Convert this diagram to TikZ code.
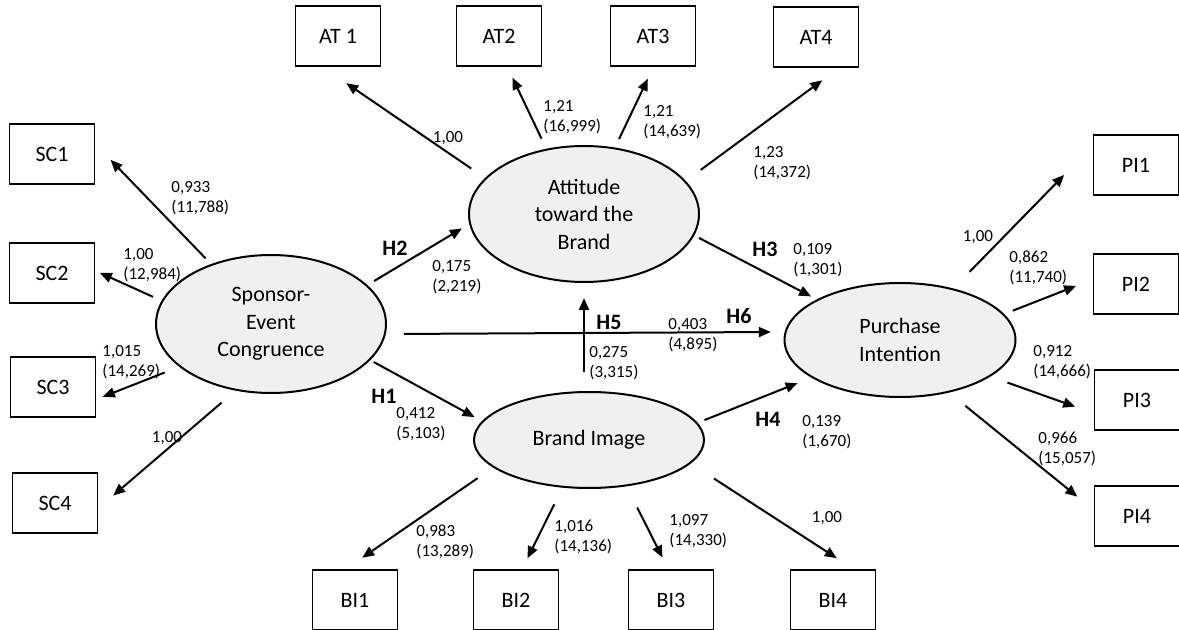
\documentclass[tikz,border=0pt]{standalone}
\usepackage{fontspec}
\setmainfont{Carlito}
\usetikzlibrary{arrows.meta,shapes.geometric}
\definecolor{latfill}{RGB}{240,240,240}

\begin{document}
\begin{tikzpicture}[x=0.5pt,y=-0.5pt,
   obs/.style={draw,line width=0.8pt,minimum width=42.5pt,minimum height=30pt,inner sep=0pt,font=\fontsize{11}{13.5}\selectfont},
   lat/.style={ellipse,draw,fill=latfill,line width=1pt,inner sep=0pt,align=center,font=\fontsize{11}{13.75}\selectfont},
   arr/.style={line width=1pt,-{Triangle[length=6pt,width=5pt]}},
   coef/.style={inner sep=0pt,anchor=west,align=left,font=\fontsize{8.5}{10}\selectfont},
   hyp/.style={inner sep=0pt,font=\bfseries\fontsize{11}{13}\selectfont}]
   \useasboundingbox (0,0) rectangle (1179,630);

   \node[lat,minimum width=115pt,minimum height=69pt] (sec) at (271,324) {Sponsor-\\Event\\Congruence};
   \node[lat,minimum width=115pt,minimum height=68pt] (atb) at (584,214) {Attitude\\toward the\\Brand};
   \node[lat,minimum width=115pt,minimum height=48pt] (bimg) at (589,440) {Brand Image};
   \node[lat,minimum width=115.5pt,minimum height=57pt] (pint) at (900,340) {Purchase\\Intention};

   \node[obs] (at1) at (338,36) {AT 1};
   \node[obs] (at2) at (499,36) {AT2};
   \node[obs] (at3) at (653,36) {AT3};
   \node[obs] (at4) at (816,37) {AT4};
   \node[obs] (sc1) at (52,154) {SC1};
   \node[obs] (sc2) at (52,273) {SC2};
   \node[obs] (sc3) at (53,387) {SC3};
   \node[obs] (sc4) at (55,503) {SC4};
   \node[obs] (pi1) at (1136,165) {PI1};
   \node[obs] (pi2) at (1136,284) {PI2};
   \node[obs] (pi3) at (1137,400) {PI3};
   \node[obs] (pi4) at (1137,516) {PI4};
   \node[obs] (bi1) at (355,600) {BI1};
   \node[obs] (bi2) at (516,600) {BI2};
   \node[obs] (bi3) at (671,600) {BI3};
   \node[obs] (bi4) at (833,600) {BI4};

   \draw[arr,shorten <=3.9pt,shorten >=11pt] (sec.135) -- (sc1.13);
   \draw[arr,shorten <=4.7pt,shorten >=2.5pt] (sec.168) -- (sc2.3);
   \draw[arr,shorten <=7.8pt,shorten >=3.5pt] (sec.205) -- (sc3.-16);
   \draw[arr,shorten <=9.2pt,shorten >=9.8pt] (sec.242) -- (sc4.-7);
   \draw[arr,shorten <=8.4pt,shorten >=14.5pt] (atb.160) -- (at1.-117);
   \draw[arr,shorten <=5.6pt,shorten >=6pt] (atb.120) -- (at2.-75);
   \draw[arr,shorten <=4.7pt,shorten >=6.6pt] (atb.65) -- (at3.-89);
   \draw[arr,shorten <=9.3pt,shorten >=10.5pt] (atb.18) -- (at4.-53);
   \draw[arr,shorten <=11.6pt,shorten >=20.4pt] (pint.44) -- (pi1.156);
   \draw[arr,shorten <=4.6pt,shorten >=8.9pt] (pint.14) -- (pi2.174);
   \draw[arr,shorten <=9pt,shorten >=9.8pt] (pint.-22) -- (pi3.197);
   \draw[arr,shorten <=10.5pt,shorten >=10.5pt] (pint.-47) -- (pi4.172);
   \draw[arr,shorten <=9.4pt,shorten >=10.1pt] (bimg.196) -- (bi1.107);
   \draw[arr,shorten <=9.3pt,shorten >=6.1pt] (bimg.241) -- (bi2.79);
   \draw[arr,shorten <=11.8pt,shorten >=6.5pt] (bimg.-51) -- (bi3.95);
   \draw[arr,shorten <=13.8pt,shorten >=10.1pt] (bimg.-13) -- (bi4.56);

   \draw[arr,shorten <=3.9pt,shorten >=4.3pt] (sec.22) -- (atb.185);
   \draw[arr,shorten <=2.7pt,shorten >=3.2pt] (atb.-11) -- (pint.154);
   \draw[arr,shorten <=9pt,shorten >=6.9pt] (sec.-5) -- (pint.176);
   \draw[arr,shorten <=9.5pt,shorten >=7.5pt] (bimg.north -| atb.south) -- (atb.south);
   \draw[arr,shorten <=1.9pt,shorten >=4.2pt] (sec.-20) -- (bimg.170);
   \draw[arr,shorten <=3.7pt,shorten >=7.4pt] (bimg.9) -- (pint.203);

   \node[coef,anchor=center] (w-at1) at (448,138) {1,00};
   \node[coef] (w-at2) at (543,117.5) {1,21\\(16,999)};
   \node[coef] (w-at3) at (643,122) {1,21\\(14,639)};
   \node[coef] (w-at4) at (753,163.5) {1,23\\(14,372)};
   \node[coef] (w-sc1) at (171,198) {0,933\\(11,788)};
   \node[coef] (w-sc2) at (123,265.5) {1,00\\(12,984)};
   \node[coef] (w-sc3) at (102,362.5) {1,015\\(14,269)};
   \node[coef,anchor=center] (w-sc4) at (167,438) {1,00};
   \node[coef] (w-bi1) at (416,542) {0,983\\(13,289)};
   \node[coef] (w-bi2) at (554,536.5) {1,016\\(14,136)};
   \node[coef] (w-bi3) at (669,531) {1,097\\(14,330)};
   \node[coef,anchor=center] (w-bi4) at (827,518) {1,00};
   \node[coef,anchor=center] (w-pi1) at (978,237) {1,00};
   \node[coef] (w-pi2) at (1009,267.5) {0,862\\(11,740)};
   \node[coef] (w-pi3) at (1033,362.5) {0,912\\(14,666)};
   \node[coef] (w-pi4) at (1038,449) {0,966\\(15,057)};

   \node[hyp] (h1) at (384,396) {H1};
   \node[coef] (w-h1) at (396,424.5) {0,412\\(5,103)};
   \node[hyp] (h2) at (395,248) {H2};
   \node[coef] (w-h2) at (432,277) {0,175\\(2,219)};
   \node[hyp] (h3) at (765,249) {H3};
   \node[coef] (w-h3) at (793,260.5) {0,109\\(1,301)};
   \node[hyp] (h4) at (768,419) {H4};
   \node[coef] (w-h4) at (802,432.5) {0,139\\(1,670)};
   \node[hyp] (h5) at (609,322) {H5};
   \node[coef] (w-h5) at (589,363.5) {0,275\\(3,315)};
   \node[hyp] (h6) at (739,316) {H6};
   \node[coef] (w-h6) at (668,335.5) {0,403\\(4,895)};
\end{tikzpicture}
\end{document}
